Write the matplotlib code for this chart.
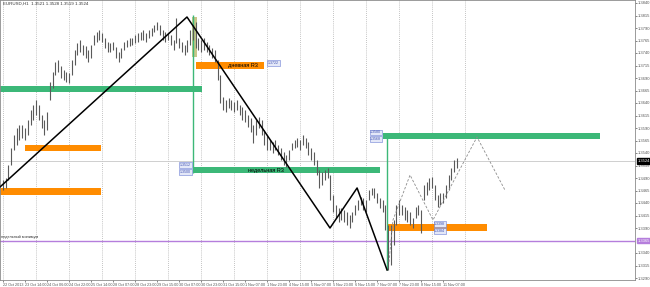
import matplotlib
matplotlib.use("Agg")
import matplotlib.pyplot as plt
import matplotlib.transforms as mtransforms
from matplotlib.patches import Rectangle
import numpy as np

plt.rcParams['font.family'] = ['Liberation Sans', 'DejaVu Sans']

# H1 chart, one entry per 2 hours (high / low of the pair of bars)
bar_high = [1.3486, 1.3490, 1.3516, 1.3550, 1.3576, 1.3590, 1.3596, 1.3596, 1.3590, 1.3606,
            1.3626, 1.3636, 1.3646, 1.3636, 1.3616, 1.3606, 1.3622, 1.3682, 1.3702, 1.3722,
            1.3726, 1.3714, 1.3706, 1.3702, 1.3700, 1.3726, 1.3746, 1.3760, 1.3766, 1.3756,
            1.3754, 1.3746, 1.3756, 1.3776, 1.3782, 1.3786, 1.3780, 1.3770, 1.3762, 1.3760,
            1.3762, 1.3752, 1.3742, 1.3750, 1.3762, 1.3766, 1.3770, 1.3770, 1.3776, 1.3780,
            1.3782, 1.3786, 1.3780, 1.3786, 1.3790, 1.3796, 1.3802, 1.3796, 1.3786, 1.3782,
            1.3780, 1.3776, 1.3766, 1.3810, 1.3770, 1.3762, 1.3756, 1.3766, 1.3786, 1.3796,
            1.3802, 1.3770, 1.3766, 1.3770, 1.3762, 1.3756, 1.3750, 1.3746, 1.3726, 1.3696,
            1.3652, 1.3646, 1.3650, 1.3646, 1.3642, 1.3646, 1.3636, 1.3632, 1.3626, 1.3616,
            1.3610, 1.3596, 1.3606, 1.3612, 1.3606, 1.3586, 1.3576, 1.3566, 1.3562, 1.3566,
            1.3556, 1.3550, 1.3542, 1.3536, 1.3546, 1.3560, 1.3566, 1.3570, 1.3566, 1.3576,
            1.3570, 1.3562, 1.3550, 1.3542, 1.3526, 1.3506, 1.3502, 1.3506, 1.3510, 1.3496,
            1.3456, 1.3436, 1.3430, 1.3430, 1.3426, 1.3422, 1.3416, 1.3422, 1.3436, 1.3446,
            1.3452, 1.3450, 1.3446, 1.3466, 1.3470, 1.3470, 1.3460, 1.3450, 1.3446, 1.3436,
            1.3396, 1.3396, 1.3406, 1.3436, 1.3446, 1.3436, 1.3432, 1.3426, 1.3422, 1.3410,
            1.3432, 1.3436, 1.3426, 1.3476, 1.3482, 1.3490, 1.3492, 1.3476, 1.3456, 1.3460,
            1.3460, 1.3476, 1.3496, 1.3510, 1.3526, 1.3530]
bar_low = [1.3466, 1.3470, 1.3486, 1.3516, 1.3546, 1.3556, 1.3566, 1.3570, 1.3566, 1.3576,
           1.3596, 1.3606, 1.3616, 1.3606, 1.3590, 1.3576, 1.3586, 1.3646, 1.3670, 1.3696,
           1.3702, 1.3690, 1.3686, 1.3682, 1.3680, 1.3696, 1.3716, 1.3736, 1.3742, 1.3736,
           1.3730, 1.3722, 1.3730, 1.3756, 1.3762, 1.3766, 1.3762, 1.3750, 1.3742, 1.3742,
           1.3746, 1.3730, 1.3722, 1.3730, 1.3746, 1.3752, 1.3754, 1.3756, 1.3760, 1.3762,
           1.3766, 1.3766, 1.3762, 1.3770, 1.3774, 1.3782, 1.3786, 1.3776, 1.3766, 1.3762,
           1.3766, 1.3756, 1.3746, 1.3760, 1.3750, 1.3742, 1.3736, 1.3742, 1.3756, 1.3766,
           1.3750, 1.3746, 1.3742, 1.3746, 1.3742, 1.3736, 1.3730, 1.3722, 1.3686, 1.3640,
           1.3626, 1.3622, 1.3630, 1.3626, 1.3622, 1.3626, 1.3616, 1.3606, 1.3602, 1.3592,
           1.3582, 1.3560, 1.3576, 1.3590, 1.3576, 1.3556, 1.3546, 1.3546, 1.3540, 1.3546,
           1.3536, 1.3526, 1.3516, 1.3512, 1.3526, 1.3546, 1.3550, 1.3552, 1.3546, 1.3556,
           1.3550, 1.3536, 1.3526, 1.3516, 1.3496, 1.3470, 1.3476, 1.3486, 1.3490, 1.3446,
           1.3422, 1.3410, 1.3402, 1.3406, 1.3402, 1.3396, 1.3390, 1.3402, 1.3416, 1.3426,
           1.3436, 1.3426, 1.3422, 1.3446, 1.3456, 1.3450, 1.3440, 1.3430, 1.3422, 1.3386,
           1.3306, 1.3316, 1.3356, 1.3396, 1.3416, 1.3416, 1.3406, 1.3402, 1.3396, 1.3390,
           1.3410, 1.3416, 1.3380, 1.3446, 1.3456, 1.3466, 1.3470, 1.3446, 1.3432, 1.3436,
           1.3440, 1.3450, 1.3466, 1.3486, 1.3502, 1.3510]
bar_step_hours = 2

last_price = 1.3524
weekly_low = 1.3365

date_labels = ["22 Oct 2013", "23 Oct 14:00", "24 Oct 06:00", "24 Oct 22:00", "25 Oct 14:00",
               "28 Oct 07:00", "28 Oct 23:00", "29 Oct 15:00", "30 Oct 07:00", "30 Oct 23:00",
               "31 Oct 15:00", "1 Nov 07:00", "1 Nov 23:00", "4 Nov 15:00", "5 Nov 07:00",
               "5 Nov 23:00", "6 Nov 15:00", "7 Nov 07:00", "7 Nov 23:00", "8 Nov 15:00",
               "11 Nov 07:00"]
price_ticks = [1.3290, 1.3315, 1.3340, 1.3390, 1.3415, 1.3440, 1.3465, 1.3490, 1.3515,
               1.3540, 1.3565, 1.3590, 1.3615, 1.3640, 1.3665, 1.3690, 1.3715, 1.3740,
               1.3765, 1.3790, 1.3815, 1.3840]

# levels: (start hour, end hour, bottom, top)
green_levels = [(-3, 145, 1.3662, 1.3674), (138, 274, 1.3500, 1.3512), (276, 434, 1.3568, 1.3580)]
orange_levels = [(16, 71, 1.3544, 1.3556), (-3, 71, 1.3456, 1.3470),
                 (140, 190, 1.3708, 1.3722), (279, 352, 1.3384, 1.3398)]

# zigzag (hour, price)
zz_hours = [-2.2, 133.8, 237.8, 257.5, 279.3]
zz_prices = [1.3472, 1.3812, 1.3390, 1.3470, 1.3306]
proj_hours = [280.7, 283.6, 296, 312.7, 344.7, 365]
proj_prices = [1.3322, 1.3406, 1.3496, 1.3406, 1.3572, 1.3466]

fig = plt.figure(figsize=(6.5, 2.87), dpi=100)
ax = fig.add_axes([0, 7 / 287, 635 / 650, 280 / 287])
ax.set_xlim(-2.18, 459.6)
ax.set_ylim(1.3286, 1.3846)

# daily grid
for g in range(0, 337, 24):
    ax.axvline(g, color="#b0b0b0", lw=0.6, ls=(0, (1, 1.5)), zorder=0)

ax.axhline(last_price, color="#c8c8c8", lw=0.6, zorder=1)
ax.axhline(weekly_low, color="#b57edc", lw=1.0, zorder=2)

for x0, x1, lo, hi in green_levels:
    ax.add_patch(Rectangle((x0, lo), x1 - x0, hi - lo, color="#3cb878", lw=0, zorder=2))
for x0, x1, lo, hi in orange_levels:
    ax.add_patch(Rectangle((x0, lo), x1 - x0, hi - lo, color="#ff8c00", lw=0, zorder=2))

ax.add_patch(Rectangle((137.5, 1.3732), 3.5, 0.0080, color="#b9b86c", alpha=0.8, lw=0, zorder=2))
ax.vlines([138], 1.3500, 1.3816, color="#3cb878", lw=1.0, zorder=2)
ax.vlines([279], 1.3306, 1.3580, color="#3cb878", lw=1.0, zorder=2)

hours = np.arange(len(bar_high)) * bar_step_hours
ax.vlines(hours, bar_low, bar_high, color="#5a5a5a", lw=0.8, zorder=3)

ax.plot(zz_hours, zz_prices, color="black", lw=1.1, zorder=4)
ax.plot(proj_hours, proj_prices, color="#8c8c8c", lw=0.6, ls=(0, (3, 2)), zorder=4)

ax.text(174.5, 1.3714, "дневная R3", fontsize=4, ha="center", va="center", zorder=5)
ax.text(191, 1.3505, "недельная R3", fontsize=4, ha="center", va="center", zorder=5)
ax.text(-1.5, 1.3368, "недельный минимум", fontsize=2.8, color="#333333", va="bottom", zorder=5)

tag_box = dict(boxstyle="square,pad=0.15", fc="#e4e8f8", ec="#6d7fd4", lw=0.4)
for hx, py, txt in [(192.7, 1.3720, "1.3722"), (128.7, 1.3516, "1.3512"), (128.7, 1.3502, "1.3500"),
                    (267, 1.3581, "1.3580"), (267, 1.3568, "1.3568"),
                    (313.5, 1.3398, "1.3398"), (313.5, 1.3384, "1.3384")]:
    ax.text(hx, py, txt, fontsize=2.6, color="#3c4fb0", va="center", bbox=tag_box, zorder=6)

ax.yaxis.tick_right()
ax.set_yticks(price_ticks)
ax.set_yticklabels([f"{p:.4f}" for p in price_ticks])
ax.tick_params(axis="y", labelsize=3.0, length=1.5, width=0.5, pad=0.8, colors="#555555")
ax.set_xticks(np.arange(len(date_labels)) * 16)
ax.set_xticklabels(date_labels)
for t in ax.get_xticklabels():
    t.set_ha("left")
ax.tick_params(axis="x", labelsize=2.7, length=1.5, width=0.5, pad=0.5, colors="#555555")

trans = mtransforms.blended_transform_factory(ax.transAxes, ax.transData)
ax.text(1.004, last_price, f"{last_price:.4f}", transform=trans, fontsize=3.0, color="white",
        va="center", bbox=dict(boxstyle="square,pad=0.15", fc="black", ec="black"), zorder=7,
        clip_on=False)
ax.text(1.004, weekly_low, f"{weekly_low:.4f}", transform=trans, fontsize=3.0, color="white",
        va="center", bbox=dict(boxstyle="square,pad=0.15", fc="#b57edc", ec="#b57edc"), zorder=7,
        clip_on=False)

for s in ax.spines.values():
    s.set_color("#8a8a8a")
    s.set_linewidth(0.6)

fig.text(3 / 650, 1 - 4 / 287, "EURUSD,H1  1.3521 1.3528 1.3519 1.3524", fontsize=3.2,
         color="#333333", va="center")

fig.savefig("out.png", dpi=100)
